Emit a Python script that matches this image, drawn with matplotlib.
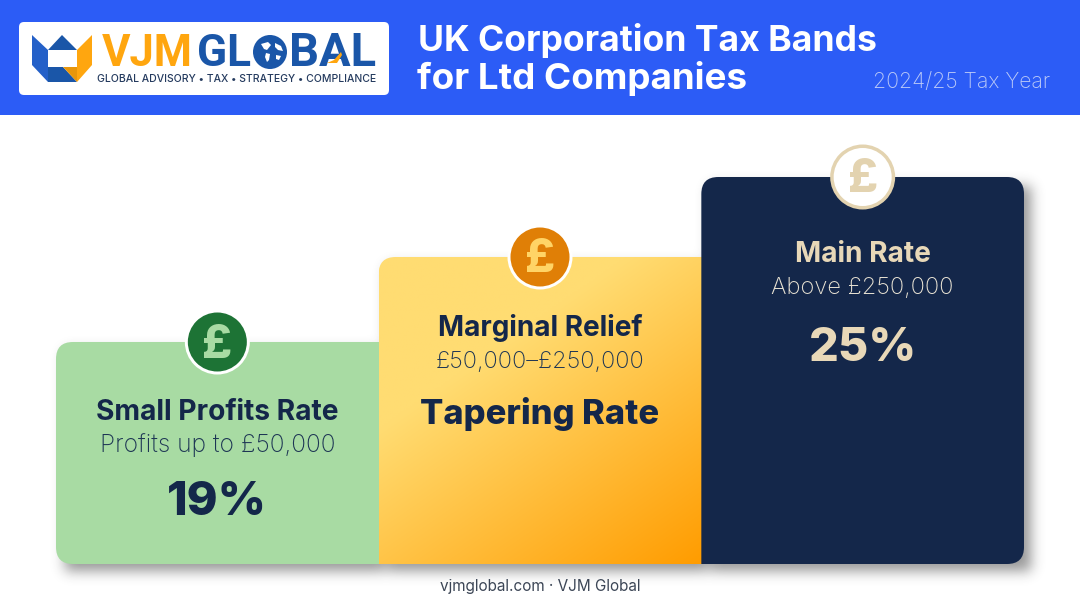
import numpy as np
import matplotlib
matplotlib.use("Agg")
import matplotlib.pyplot as plt
from matplotlib.path import Path
from matplotlib.patches import PathPatch, Circle, Polygon, FancyBboxPatch

# ---- data ----
band_names = ["Small Profits Rate", "Marginal Relief", "Main Rate"]
band_ranges = ["Profits up to £50,000", "£50,000–£250,000", "Above £250,000"]
band_rates = ["19%", "Tapering Rate", "25%"]
step_heights = [222, 307, 387]
title_lines = ["UK Corporation Tax Bands", "for Ltd Companies"]
subtitle = "2024/25 Tax Year"
footer = "vjmglobal.com · VJM Global"
tagline = "GLOBAL ADVISORY • TAX • STRATEGY • COMPLIANCE"

NAVY = "#14274a"
CREAM = "#e8d8b8"
BLUE = "#2c5cf6"
LOGO_BLUE = "#1a56a8"
LOGO_ORANGE = "#ffa60f"
FONT = "Inter"

W, H = 1080, 603
fig = plt.figure(figsize=(W / 100, H / 100), dpi=100, facecolor="white")
ax = fig.add_axes([0, 0, 1, 1])
ax.set_xlim(0, W)
ax.set_ylim(H, 0)
ax.axis("off")
renderer = fig.canvas.get_renderer()


def fit(x0, x1, base, s, color, weight="bold", family=FONT, z=10):
    """Real text scaled so that it spans x0..x1 in pixels."""
    t = ax.text((x0 + x1) / 2, base, s, color=color, fontweight=weight, family=family,
                ha="center", va="baseline", fontsize=20, zorder=z)
    w = t.get_window_extent(renderer).width
    t.set_fontsize(20 * (x1 - x0) / w)
    return t


def round_path(x0, y0, x1, y1, r, tl=True, tr=True, br=True, bl=True):
    v, c = [], []
    def pt(p, code):
        v.append(p); c.append(code)
    pt((x0 + (r if tl else 0), y0), Path.MOVETO)
    pt((x1 - (r if tr else 0), y0), Path.LINETO)
    if tr:
        pt((x1, y0), Path.CURVE3); pt((x1, y0 + r), Path.CURVE3)
    pt((x1, y1 - (r if br else 0)), Path.LINETO)
    if br:
        pt((x1, y1), Path.CURVE3); pt((x1 - r, y1), Path.CURVE3)
    pt((x0 + (r if bl else 0), y1), Path.LINETO)
    if bl:
        pt((x0, y1), Path.CURVE3); pt((x0, y1 - r), Path.CURVE3)
    pt((x0, y0 + (r if tl else 0)), Path.LINETO)
    if tl:
        pt((x0, y0), Path.CURVE3); pt((x0 + r, y0), Path.CURVE3)
    pt((x0, y0), Path.CLOSEPOLY)
    return Path(v, c)


# ---- header ----
ax.fill_between([0, W], 0, 114.5, color=BLUE, lw=0, zorder=1)
ax.add_patch(FancyBboxPatch((23, 26), 362, 65, boxstyle="round,pad=4,rounding_size=5",
                            fc="white", ec="none", zorder=2))
for pts, col in [
    ([(32, 35), (48, 50), (48, 82), (32, 65)], "#2460c8"),
    ([(48, 50), (62, 35), (77, 50)], LOGO_BLUE),
    ([(77, 50), (92, 35), (92, 65), (77, 82)], LOGO_ORANGE),
    ([(48, 67), (63, 67), (77, 82), (48, 82)], LOGO_BLUE),
    ([(63, 67), (77, 67), (77, 82)], "#e8960c"),
]:
    ax.add_patch(Polygon(pts, fc=col, ec="none", zorder=3))
fit(102, 193, 66, "VJM", LOGO_ORANGE, family="Roboto")
fit(197, 251, 66, "GL", LOGO_BLUE, family="Roboto")
fit(289, 376, 66, "BAL", LOGO_BLUE, family="Roboto")
ax.add_patch(Circle((270, 52), 17, fc=LOGO_BLUE, ec="none", zorder=3))
for pts in [
    [(261, 44), (268, 42), (271, 45), (267, 50), (264, 49)],
    [(266, 53), (270, 54), (269, 60), (267, 62), (265, 57)],
    [(275, 43), (281, 46), (283, 51), (278, 50), (275, 47)],
    [(276, 55), (281, 56), (279, 60), (276, 59)],
]:
    ax.add_patch(Polygon(pts, fc="white", ec="none", zorder=4))
ax.add_patch(Polygon([(327, 63), (334, 60), (341, 52), (342, 55), (337, 63)],
                     fc=LOGO_ORANGE, ec="none", zorder=11))
fit(97, 376, 82, tagline, "#243a5e", weight="medium")

fit(417, 877, 50.5, title_lines[0], "white", weight="bold")
fit(417, 748, 88.5, title_lines[1], "white", weight="bold")
fit(873, 1050, 88, subtitle, "#bccbf8", weight="light")

# ---- bars ----
n = len(step_heights)
left, right, bottom = 56.0, 1024.0, 564.0
bw = (right - left) / n
edges = left + bw * np.arange(n + 1)
tops = bottom - np.array(step_heights)
R = 17

# soft shadow built from the same bar rectangles
mask = np.zeros((H, W))
for i in range(n):
    mask[int(tops[i]) + 9:int(bottom) + 7, int(edges[i]) + 9:int(edges[i + 1]) + 7] = 1
xk = np.arange(-20, 21)
kernel = np.exp(-xk ** 2 / (2 * 6.5 ** 2))
kernel /= kernel.sum()
blur = np.apply_along_axis(lambda a: np.convolve(a, kernel, mode="same"), 0, mask)
blur = np.apply_along_axis(lambda a: np.convolve(a, kernel, mode="same"), 1, blur)
shadow = np.zeros((H, W, 4))
shadow[..., :3] = 0.18
shadow[..., 3] = blur * 0.5
ax.imshow(shadow, extent=(0, W, H, 0), aspect="auto", zorder=3, interpolation="bilinear")

# bar 1: flat green
ax.add_patch(PathPatch(round_path(edges[0], tops[0], edges[1] + 1, bottom, R, tr=False, br=False),
                       fc="#a8dba3", ec="none", zorder=4))

# bar 2: diagonal gradient
p2 = PathPatch(round_path(edges[1], tops[1], edges[2] + 1, bottom, R, tr=False, br=False, bl=False),
               fc="none", ec="none", zorder=5)
ax.add_patch(p2)
gx, gy = np.meshgrid(np.linspace(0, 1, 160), np.linspace(0, 1, 160))
tt = np.clip((gx * 0.55 + gy * 0.75 - 0.42) / 0.88, 0, 1)
c0 = np.array([0xff, 0xdc, 0x72]) / 255
c1 = np.array([0xff, 0x9c, 0x00]) / 255
grad = c0[None, None, :] * (1 - tt[..., None]) + c1[None, None, :] * tt[..., None]
im = ax.imshow(grad, extent=(edges[1], edges[2] + 1, bottom, tops[1]), aspect="auto",
               zorder=5, interpolation="bilinear")
im.set_clip_path(p2)

# bar 3: navy
ax.add_patch(PathPatch(round_path(edges[2], tops[2], edges[3], bottom, R, bl=False),
                       fc=NAVY, ec="none", zorder=6))
ax.set_xlim(0, W)
ax.set_ylim(H, 0)

# ---- coin badges ----
coin_fill = ["#1d7335", "#e07f06", "white"]
coin_ring = ["white", "white", "#e3d3b0"]
coin_sign = ["#a8dba3", "#ffd466", "#e3d3b0"]
sign_half = 15
for i in range(n):
    cx = (edges[i] + edges[i + 1]) / 2
    cy = tops[i]
    ax.add_patch(Circle((cx, cy), 32.5, fc=coin_ring[i], ec="none", zorder=8))
    ax.add_patch(Circle((cx, cy), 29.5 if i < 2 else 29, fc=coin_fill[i], ec="none", zorder=9))
    fit(cx - sign_half, cx + sign_half, cy + 15.5, "£", coin_sign[i], weight="heavy")

# ---- labels ----
text_col = [NAVY, NAVY, CREAM]
name_w = [243, 205, 136]
range_w = [235, 208, 182]
rate_w = [100, 239, 108]
name_base = [78.5, 78.5, 85.5]
range_base = [110, 111, 117]
rate_base = [173, 167, 184]
for i in range(n):
    cx = (edges[i] + edges[i + 1]) / 2
    fit(cx - name_w[i] / 2, cx + name_w[i] / 2, tops[i] + name_base[i], band_names[i], text_col[i], weight="bold")
    fit(cx - range_w[i] / 2, cx + range_w[i] / 2, tops[i] + range_base[i], band_ranges[i],
        "#e9e3d4" if i == 2 else "#1d3554", weight="light")
    fit(cx - rate_w[i] / 2, cx + rate_w[i] / 2, tops[i] + rate_base[i], band_rates[i], text_col[i], weight="heavy")

fit(439, 641, 591, footer, "#3c4656", weight="normal")

fig.savefig("out.png", dpi=100, facecolor="white")
